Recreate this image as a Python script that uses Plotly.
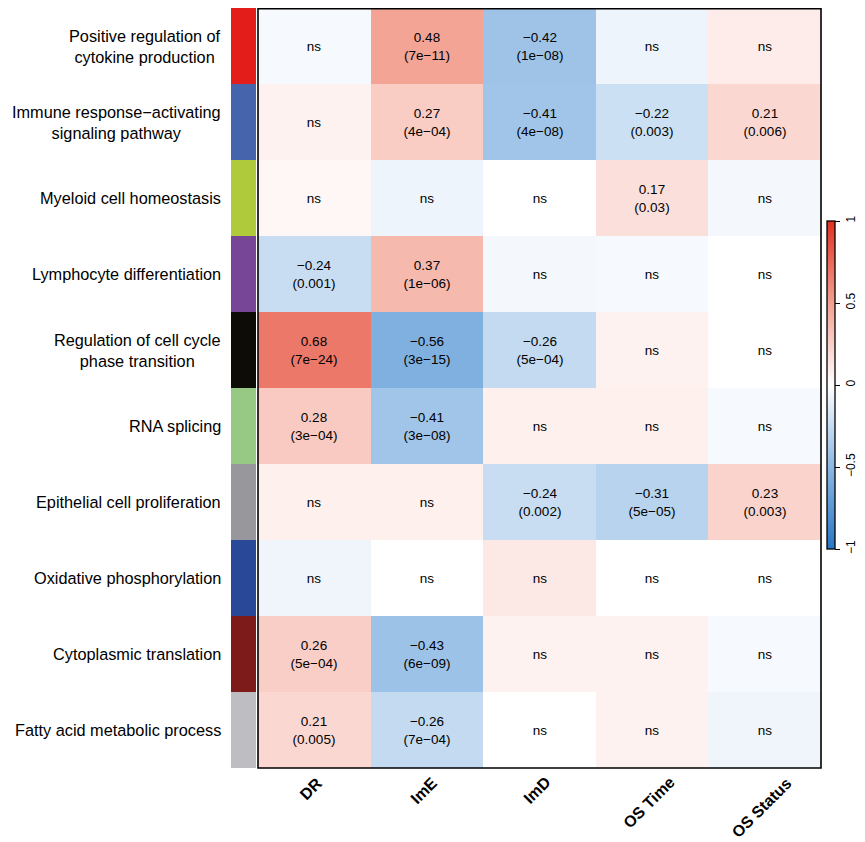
import plotly.graph_objects as go

# rangées (voies) et colonnes (variables cliniques)
pathways = [
    "Positive regulation of<br>cytokine production",
    "Immune response−activating<br>signaling pathway",
    "Myeloid cell homeostasis",
    "Lymphocyte differentiation",
    "Regulation of cell cycle<br>phase transition",
    "RNA splicing",
    "Epithelial cell proliferation",
    "Oxidative phosphorylation",
    "Cytoplasmic translation",
    "Fatty acid metabolic process",
]
variables = ["DR", "ImE", "ImD", "OS Time", "OS Status"]

# corrélations (les cases "ns" sont estimées d'après la teinte)
corr = [
    [-0.04, 0.48, -0.42, -0.08, 0.10],
    [0.07, 0.27, -0.41, -0.22, 0.21],
    [0.04, -0.08, 0.00, 0.17, -0.05],
    [-0.24, 0.37, -0.05, -0.04, 0.00],
    [0.68, -0.56, -0.26, 0.07, 0.00],
    [0.28, -0.41, 0.08, 0.08, -0.04],
    [0.08, 0.08, -0.24, -0.31, 0.23],
    [-0.07, 0.00, 0.12, 0.00, 0.00],
    [0.26, -0.43, 0.07, 0.07, -0.04],
    [0.21, -0.26, 0.00, 0.07, -0.07],
]
pvals = [
    [None, "7e−11", "1e−08", None, None],
    [None, "4e−04", "4e−08", "0.003", "0.006"],
    [None, None, None, "0.03", None],
    ["0.001", "1e−06", None, None, None],
    ["7e−24", "3e−15", "5e−04", None, None],
    ["3e−04", "3e−08", None, None, None],
    [None, None, "0.002", "5e−05", "0.003"],
    [None, None, None, None, None],
    ["5e−04", "6e−09", None, None, None],
    ["0.005", "7e−04", None, None, None],
]
strip_colors = ["#E31D1A", "#4664AB", "#AFCB3C", "#784696", "#0E0C06",
                "#97C984", "#98979B", "#2A4898", "#7D1A1A", "#BEBDC2"]

W, H = 865, 842
MR = 52            # marge droite pour la barre de couleur
PW = W - MR
OFF = 8            # décalage de la page (marge du body)

def fx(v):
    return (v - OFF) / PW

def fy(v):
    return min(1.0, 1 - (v - OFF) / H)

# texte des cases
cell_text = []
for r, row in enumerate(corr):
    line = []
    for c, v in enumerate(row):
        p = pvals[r][c]
        if p is None:
            line.append("ns")
        else:
            line.append(f"{v:.2f}".replace("-", "−") + "<br>(" + p + ")")
    cell_text.append(line)

fig = go.Figure()

fig.add_trace(go.Heatmap(
    z=corr, x=variables, y=pathways, text=cell_text,
    texttemplate="%{text}", textfont=dict(size=13.5, color="black", family="Liberation Sans"),
    zmin=-1, zmax=1,
    colorscale=[[0, "rgb(40,118,196)"], [0.25, "rgb(140,184,227)"], [0.5, "white"],
                [0.75, "rgb(243,160,145)"], [1, "rgb(224,48,34)"]],
    colorbar=dict(
        x=fx(827), xanchor="left", thickness=8, xpad=0, ypad=0,
        y=fy(385), yanchor="middle", len=328 / H, lenmode="fraction",
        outlinecolor="black", outlinewidth=1.3,
        tickvals=[-1, -0.5, 0, 0.5, 1], ticktext=["−1", "−0.5", "0", "0.5", "1"],
        ticks="outside", ticklen=5, tickwidth=1.3, tickcolor="black", tickangle=-90,
        tickfont=dict(size=12, family="Liberation Sans", color="black"),
    ),
    hoverinfo="skip",
))

# bande de couleur à gauche
n = len(strip_colors)
strip_scale = []
for i, c in enumerate(strip_colors):
    strip_scale.append([i / n, c])
    strip_scale.append([(i + 1) / n, c])
fig.add_trace(go.Heatmap(
    z=[[i + 0.5] for i in range(n)], x=["g"], y=pathways,
    zmin=0, zmax=n, colorscale=strip_scale, showscale=False,
    xaxis="x2", yaxis="y", hoverinfo="skip",
))

for lab in pathways:
    fig.add_annotation(
        x=fx(223), xref="paper", xanchor="right", y=lab, yref="y",
        text=lab, showarrow=False, align="center",
        font=dict(size=16.3, family="Liberation Sans", color="black"),
    )

for var in variables:
    fig.add_annotation(
        x=var, xref="x", xanchor="center", xshift=-3,
        y=fy(771), yref="paper", yanchor="top",
        text=var, textangle=-45, showarrow=False,
        font=dict(size=16, family="Liberation Sans", color="black", weight="bold"),
    )

fig.add_shape(type="rect", xref="paper", yref="paper",
              x0=fx(258), x1=fx(821), y0=fy(768), y1=1 - 0.8 / H,
              line=dict(color="black", width=1.6))

fig.update_layout(
    width=W, height=H,
    margin=dict(l=0, r=MR, t=0, b=0),
    plot_bgcolor="white", paper_bgcolor="white",
    xaxis=dict(domain=[fx(258), min(1.0, fx(821))], showticklabels=False, ticks="",
               showgrid=False, zeroline=False, automargin=False),
    xaxis2=dict(domain=[fx(231), fx(256)], showticklabels=False, ticks="",
                showgrid=False, zeroline=False, anchor="y"),
    yaxis=dict(domain=[fy(768), fy(3)], autorange="reversed", showticklabels=False,
               ticks="", showgrid=False, zeroline=False, automargin=False),
)

fig.write_html("out.html")
